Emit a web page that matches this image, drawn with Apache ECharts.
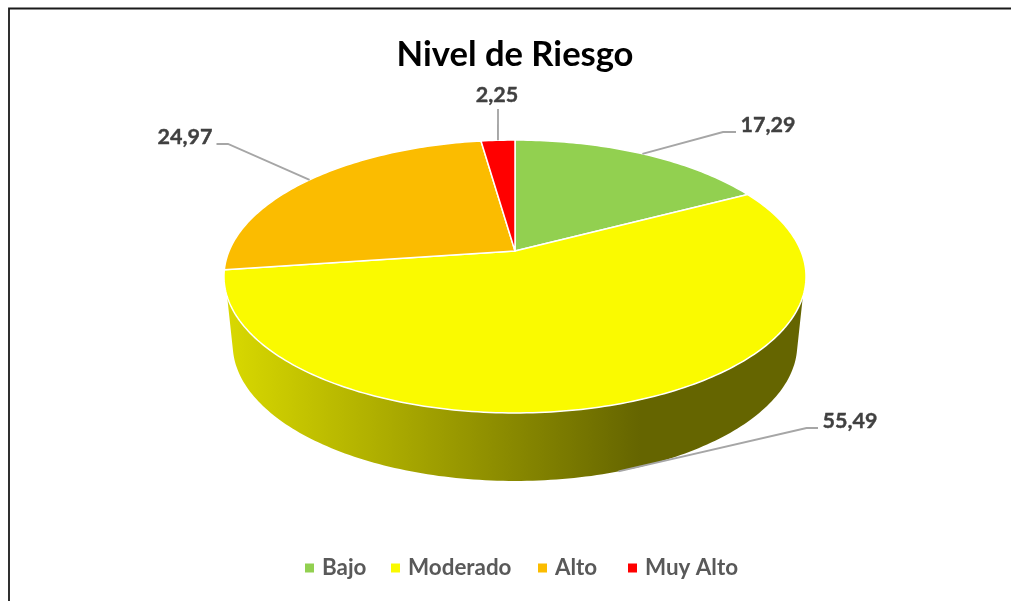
<!DOCTYPE html>
<html>
<head>
<meta charset="utf-8">
<style>html,body{margin:0;padding:0;background:#fff}#c{width:1011px;height:601px}</style>
<script src="https://cdn.jsdelivr.net/npm/echarts@6/dist/echarts.min.js"></script>
</head>
<body>
<div id="c"></div>
<script>
const titleText = 'Nivel de Riesgo';
const categories = ['Bajo', 'Moderado', 'Alto', 'Muy Alto'];
const values = [17.29, 55.49, 24.97, 2.25];
const valueLabels = ['17,29', '55,49', '24,97', '2,25'];
const colors = ['#92D050', '#FAFA00', '#FBBC00', '#FF0000'];

// projection of the tilted disc (perspective), not data
const view = {cx: 515, cy: 251, A: 131.7, B: 0.1868, C: 285.9, depth: 68, shrink: 0.97, wallFrom: 109, wallTo: 251, baseFrom: 104, baseTo: 256};
const total = values.reduce((a, b) => a + b, 0);
const cumulative = values.map((_, i) => values.slice(0, i).reduce((a, b) => a + b, 0));
const legendLefts = [300, 386, 533, 623];

function project(deg, low) {
  const t = deg * Math.PI / 180, u = Math.sin(t), v = Math.cos(t), w = 1 + view.B * v;
  const x = view.C * u / w, y = -view.A * v / w;
  return low ? [view.cx + x * view.shrink, view.cy + y + view.depth] : [view.cx + x, view.cy + y];
}
function arc(from, to, low) {
  const pts = [], n = Math.max(2, Math.ceil(Math.abs(to - from)));
  for (let i = 0; i <= n; i++) pts.push(project(from + (to - from) * i / n, low));
  return pts;
}
// leader routes: elbow, end of line, label anchor relative to the slice's mid angle
const leaders = [
  {elbow: [723, 132], end: [736, 132], text: [768, 125]},
  {elbow: [806.5, 428], end: [818, 428], text: [850, 421], low: true},
  {elbow: [228, 144], end: [216.5, 144], text: [185, 137]},
  {elbow: [498, 109], end: [498, 109], text: [497, 95]}
];
const wallGradient = new echarts.graphic.LinearGradient(226, 0, 806, 0, [
  {offset: 0, color: '#D9D900'}, {offset: 0.714, color: '#656500'}, {offset: 1, color: '#656500'}
], true);

function slice(i) {
  return function (params, api) {
    const start = api.value(1) / total * 360, end = (api.value(1) + api.value(0)) / total * 360;
    const children = [];
    if (i === 1) {
      children.push({
        type: 'polygon',
        shape: {points: arc(view.wallFrom, view.wallTo, false).concat(arc(view.baseTo, view.baseFrom, true))},
        style: {fill: wallGradient}
      });
    }
    children.push({
      type: 'polygon',
      shape: {points: [[view.cx, view.cy]].concat(arc(start, end, false))},
      style: {fill: colors[i], stroke: '#FFFFFF', lineWidth: 1.5, lineJoin: 'round'}
    });
    const L = leaders[i];
    const from = project((start + end) / 2, !!L.low);
    children.push({
      type: 'polyline',
      shape: {points: [from, L.elbow, L.end]},
      style: {fill: null, stroke: '#A6A6A6', lineWidth: 1.9},
      z2: 5
    });
    children.push({
      type: 'text',
      style: {
        x: L.text[0], y: L.text[1], text: valueLabels[i], fill: '#404040',
        font: 'bold 21.5px Lato', textAlign: 'center', textVerticalAlign: 'middle',
        stroke: '#404040', lineWidth: 0.4
      },
      z2: 6
    });
    return {type: 'group', children};
  };
}

const chart = echarts.init(document.getElementById('c'), null, {renderer: 'canvas'});
chart.setOption({
  animation: false,
  backgroundColor: '#FFFFFF',
  title: {
    text: titleText, left: 510, top: 32, textAlign: 'center',
    textStyle: {fontFamily: 'Lato', fontWeight: 'bold', fontSize: 34.6, color: '#000000'}
  },
  legend: categories.map((name, i) => ({
    data: [name], left: legendLefts[i], top: 552, icon: 'rect', itemWidth: 9, itemHeight: 9,
    textStyle: {fontFamily: 'Lato', fontWeight: 'bold', fontSize: 22.4, color: '#595959', padding: [0, 0, 0, 3]},
    selectedMode: false
  })),
  graphic: [{
    type: 'polyline', silent: true,
    shape: {points: [[1011, 8.5], [9, 8.5], [9, 601]]},
    style: {fill: null, stroke: '#1A1A1A', lineWidth: 1.8}
  }],
  series: categories.map((name, i) => ({
    type: 'custom', name, coordinateSystem: 'none', silent: true,
    itemStyle: {color: colors[i]},
    data: [[values[i], cumulative[i]]],
    renderItem: slice(i)
  }))
});
</script>
</body>
</html>
